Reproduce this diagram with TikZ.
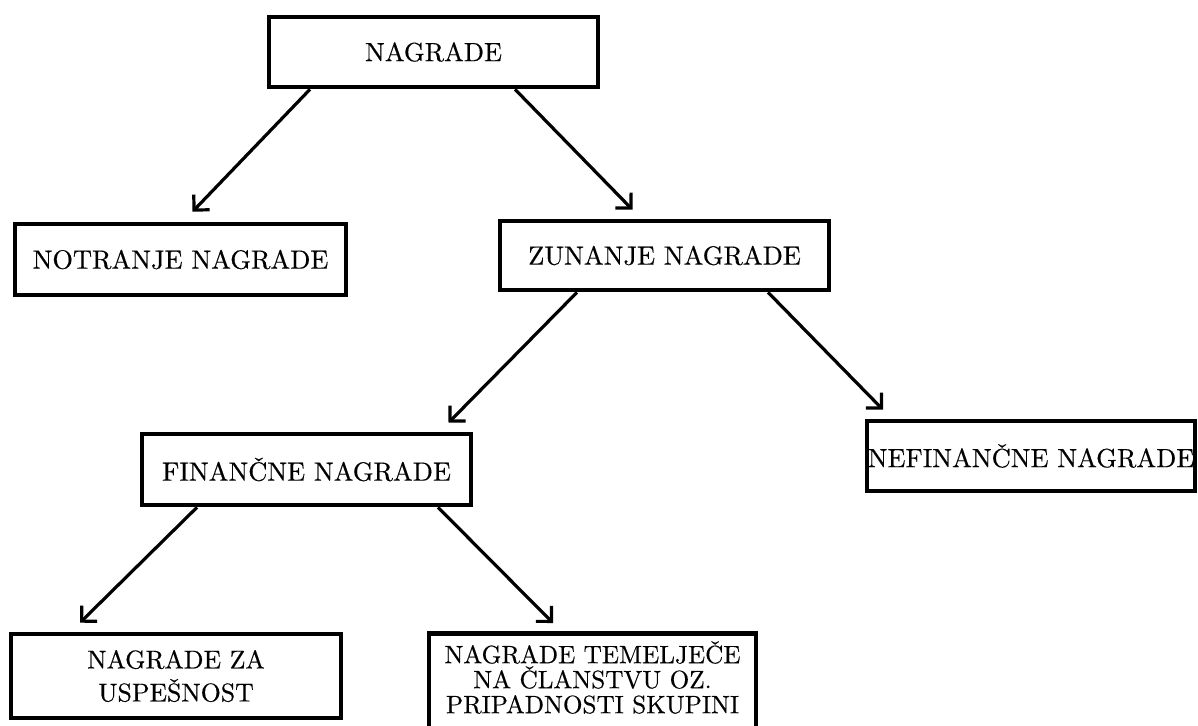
\documentclass[tikz,border=0pt]{standalone}
\usepackage{fontspec}
\newfontfamily\boxfont{lmroman10-regular}[Extension=.otf,FakeBold=0.4]
\usetikzlibrary{arrows.meta,calc}

\begin{document}
\begin{tikzpicture}[x=0.5pt,y=-0.5pt,
every node/.style={draw,line width=2.3pt,align=center,inner sep=0pt,
font=\boxfont\fontsize{13.2}{16.5}\selectfont},
arr/.style={line width=1.6pt,-{Straight Barb[length=5.5pt,width=11pt]}}]
\useasboundingbox (0,0) rectangle (1198,725);
\node[minimum width=164.5pt,minimum height=35pt] (nagrade) at (433.5,52) {NAGRADE};
\node[minimum width=165.5pt,minimum height=35.5pt] (notranje) at (180.5,259.5) {NOTRANJE NAGRADE};
\node[minimum width=164.5pt,minimum height=34.5pt] (zunanje) at (664.5,255.5) {ZUNANJE NAGRADE};
\node[minimum width=164.5pt,minimum height=35.5pt] (financne) at (306.5,469.5) {FINANČNE NAGRADE};
\node[minimum width=164pt,minimum height=35pt] (nefinancne) at (1031,456) {NEFINANČNE NAGRADE};
\node[minimum width=165pt,minimum height=42pt,font=\boxfont\fontsize{12.9}{16.5}\selectfont] (uspesnost) at (176,676)
{NAGRADE ZA\\USPEŠNOST};
\node[anchor=north,minimum width=163.5pt,inner ysep=4pt,text depth=14pt,
font=\boxfont\fontsize{12.6}{12.5}\selectfont] (clanstvo) at (592.5,631)
{NAGRADE TEMELJEČE\\NA ČLANSTVU OZ.\\PRIPADNOSTI SKUPINI};
\draw[arr] ($(nagrade.south)+(-123.5,0)$) -- ($(notranje.north)+(12,-10)$);
\draw[arr] ($(nagrade.south)+(81.5,0)$) -- ($(zunanje.north)+(-32,-9)$);
\draw[arr] ($(zunanje.south)+(-87.5,0)$) -- ($(financne.north)+(142,-9)$);
\draw[arr] ($(zunanje.south)+(103.5,0)$) -- ($(nefinancne.north)+(-148,-9)$);
\draw[arr] ($(financne.south)+(-109.5,0)$) -- ($(uspesnost.north)+(-96,-9)$);
\draw[arr] ($(financne.south)+(131.5,0)$) -- ($(clanstvo.north)+(-39.5,-8)$);
\end{tikzpicture}
\end{document}
